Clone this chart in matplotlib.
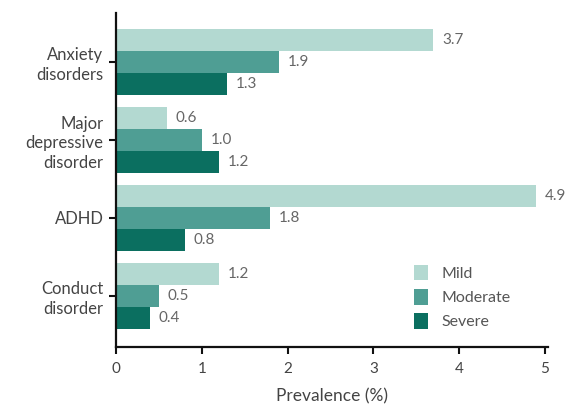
import matplotlib
matplotlib.use("Agg")
import matplotlib.pyplot as plt
import numpy as np

categories = ["Anxiety\ndisorders", "Major\ndepressive\ndisorder", "ADHD", "Conduct\ndisorder"]
series_names = ["Mild", "Moderate", "Severe"]
mild = [3.7, 0.6, 4.9, 1.2]
moderate = [1.9, 1.0, 1.8, 0.5]
severe = [1.3, 1.2, 0.8, 0.4]
colors = ["#b3d9d1", "#4f9e94", "#0b6f60"]

plt.rcParams['font.family'] = ['Lato', 'DejaVu Sans']
fig = plt.figure(figsize=(5.71, 4.11), dpi=100)
ax = fig.add_axes([0.203, 0.156, 0.756, 0.813])

y = np.arange(len(categories))
h = 0.282
txt_color = "#666666"
for i, (vals, name, c) in enumerate(zip([mild, moderate, severe], series_names, colors)):
    pos = y + (i - 1) * h
    ax.barh(pos, vals, height=h, color=c, label=name)
    for p, v in zip(pos, vals):
        ax.text(v + 0.1, p, f"{v:.1f}", va="center", ha="left", fontsize=11, color=txt_color)

ax.set_ylim(3.654, -0.628)
ax.set_xlim(0, 5.03)
ax.set_yticks(y)
ax.set_yticklabels(categories, fontsize=12, color="#444444", linespacing=1.27)
ax.set_xticks([0, 1, 2, 3, 4, 5])
ax.tick_params(axis='x', labelsize=11, colors="#444444", length=5, width=1.5, pad=6)
ax.tick_params(axis='x', color="#111111")
ax.tick_params(axis='y', length=5, width=1.5, pad=4, color="#111111")
for s in ["top", "right"]:
    ax.spines[s].set_visible(False)
for s in ["left", "bottom"]:
    ax.spines[s].set_linewidth(1.6)
    ax.spines[s].set_color("#111111")
ax.set_xlabel("Prevalence (%)", fontsize=12.5, color="#444444", labelpad=9)

ax.legend(loc="upper left", bbox_to_anchor=(0.70, 0.39), bbox_transform=fig.transFigure,
          frameon=False, fontsize=11.5, handlelength=0.9, handleheight=1.1,
          labelspacing=0.5, handletextpad=0.8, labelcolor="#555555")

fig.savefig("out.png", dpi=100)
